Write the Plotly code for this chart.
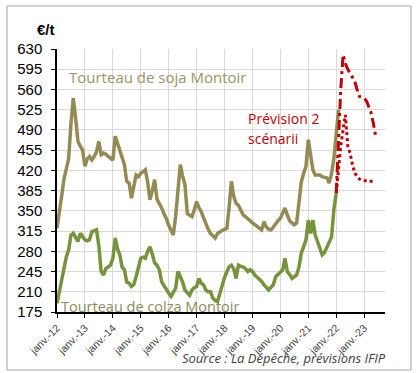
import pandas as pd
import plotly.graph_objects as go

# ---- data (monthly, from Jan 2012) ----
soja_values = [320, 345, 375, 405, 425, 440, 500, 545, 510, 470, 462, 455,
               427, 440, 444, 438, 444, 452, 470, 447, 450, 448, 444, 440,
               438, 479, 468, 453, 440, 430, 401, 398, 372, 390, 412, 409,
               415, 418, 421, 400, 369, 385, 404, 370, 363, 355, 345, 337,
               325, 314, 308, 340, 390, 430, 410, 395, 345, 343, 340, 352,
               366, 355, 349, 338, 326, 318, 311, 306, 303, 311, 314, 316,
               318, 320, 355, 401, 375, 363, 360, 350, 343, 340, 337, 333,
               329, 326, 323, 320, 317, 331, 322, 318, 317, 322, 329, 333,
               337, 345, 355, 343, 333, 329, 326, 329, 360, 400, 415, 427,
               473, 444, 421, 412, 412, 412, 409, 408, 407, 398, 415, 440,
               480, 525]
colza_values = [190, 210, 233, 255, 270, 282, 308, 311, 305, 297, 311, 305,
                300, 298, 300, 314, 315, 317, 290, 245, 239, 250, 253, 256,
                268, 303, 285, 274, 253, 248, 227, 225, 219, 222, 236, 255,
                268, 270, 268, 280, 288, 275, 260, 256, 248, 227, 220, 213,
                208, 202, 210, 216, 245, 235, 227, 213, 208, 204, 213, 217,
                219, 233, 225, 222, 213, 210, 210, 199, 195, 193, 207, 222,
                235, 245, 253, 256, 250, 233, 256, 254, 253, 250, 245, 248,
                245, 239, 236, 233, 228, 222, 218, 213, 218, 222, 236, 240,
                245, 248, 268, 245, 240, 233, 236, 239, 253, 277, 288, 300,
                334, 311, 334, 308, 297, 285, 274, 278, 288, 295, 305, 352,
                381]
# forecasts (monthly, from Jan 2022)
scenario_high = [381, 470, 560, 620, 605, 595, 588, 583, 574, 560, 548, 546,
                 545, 540, 531, 520, 502, 479]
scenario_low = [381, 430, 462, 490, 516, 462, 450, 430, 415, 410, 405, 403,
                402, 401, 401, 401, 401]

start_hist = "2012-01-01"
start_fc = "2022-01-01"
tick_years = list(range(2012, 2024))
tick_labels = ["janv.-%02d" % (y % 100) for y in tick_years]
y_ticks = list(range(175, 631, 35))

soja_dates = pd.date_range(start_hist, periods=len(soja_values), freq="MS")
colza_dates = pd.date_range(start_hist, periods=len(colza_values), freq="MS")
high_dates = pd.date_range(start_fc, periods=len(scenario_high), freq="MS")
low_dates = pd.date_range(start_fc, periods=len(scenario_low), freq="MS")

SOJA = "#948A54"
COLZA = "#77933C"
RED = "#C00000"

fig = go.Figure()
fig.add_trace(go.Scatter(x=soja_dates, y=soja_values, mode="lines",
                         line=dict(color=SOJA, width=3.5), hoverinfo="skip"))
fig.add_trace(go.Scatter(x=colza_dates, y=colza_values, mode="lines",
                         line=dict(color=COLZA, width=3.5), hoverinfo="skip"))
fig.add_trace(go.Scatter(x=high_dates, y=scenario_high, mode="lines",
                         line=dict(color=RED, width=3, dash="10px,4px,3px,4px"),
                         hoverinfo="skip"))
fig.add_trace(go.Scatter(x=low_dates, y=scenario_low, mode="lines",
                         line=dict(color=RED, width=3, dash="3px,3px"),
                         hoverinfo="skip"))

W, H = 417, 373
L, R, T, B = 57, 32, 49, 61
pw, ph = W - L - R, H - T - B


def px(x):
    return (x - L) / pw


def py(y):
    return (H - B - y) / ph


fig.update_layout(
    width=W, height=H,
    margin=dict(l=L, r=R, t=T, b=B, autoexpand=False),
    paper_bgcolor="white", plot_bgcolor="white",
    showlegend=False,
    font=dict(family="Liberation Sans, Arial, sans-serif", color="#000000"),
    xaxis=dict(
        type="date",
        automargin=False,
        range=["2012-01-01", "2023-10-01"],
        tickvals=[pd.Timestamp("%d-01-01" % y) for y in tick_years],
        ticktext=tick_labels,
        tickangle=-45,
        tickfont=dict(size=10.5, color="#404040"),
        showgrid=True, gridcolor="#D9D9D9", gridwidth=1,
        showline=True, linecolor="#000000", linewidth=1.5,
        ticks="outside", ticklen=4, tickcolor="#000000",
        zeroline=False,
    ),
    yaxis=dict(
        automargin=False,
        range=[175, 630],
        tickvals=y_ticks,
        tickfont=dict(size=15, family="Liberation Sans Narrow, Arial Narrow, Liberation Sans, sans-serif",
                      color="#000000"),
        ticklabelstandoff=6,
        showgrid=True, gridcolor="#D9D9D9", gridwidth=1,
        showline=True, linecolor="#000000", linewidth=1.5,
        ticks="outside", ticklen=4, tickcolor="#000000",
        zeroline=False,
    ),
    shapes=[dict(type="rect", xref="paper", yref="paper",
                 x0=px(7), x1=px(411), y0=py(370), y1=py(6),
                 line=dict(color="#A6A6A6", width=1), layer="above")],
    annotations=[
        dict(text="<b>€/t</b>", xref="paper", yref="paper", x=px(35), y=py(29),
             xanchor="left", yanchor="middle", showarrow=False,
             font=dict(size=15, color="#000000")),
        dict(text="Tourteau de soja Montoir", xref="paper", yref="paper",
             x=px(67), y=py(77), xanchor="left", yanchor="middle", showarrow=False,
             font=dict(size=15, family="Open Sans, sans-serif", color="#9C9468")),
        dict(text="Tourteau de colza Montoir", xref="paper", yref="paper",
             x=px(59), y=py(306), xanchor="left", yanchor="middle", showarrow=False,
             font=dict(size=14.5, family="Open Sans, sans-serif", color="#8C8A5C")),
        dict(text="Prévision 2", xref="paper", yref="paper",
             x=px(246), y=py(118), xanchor="left", yanchor="middle", showarrow=False,
             font=dict(size=14, family="Open Sans, sans-serif", color=RED)),
        dict(text="scénarii", xref="paper", yref="paper",
             x=px(246), y=py(138), xanchor="left", yanchor="middle", showarrow=False,
             font=dict(size=14, family="Open Sans, sans-serif", color=RED)),
        dict(text="<i>Source : La Dépêche, prévisions IFIP</i>", xref="paper", yref="paper",
             x=px(388), y=py(358), xanchor="right", yanchor="middle", showarrow=False,
             font=dict(size=13, family="Open Sans, sans-serif", color="#404040")),
    ],
)

fig.write_html("out.html", config={"displayModeBar": False},
               post_script="document.body.style.margin='0';document.body.style.padding='0';")
